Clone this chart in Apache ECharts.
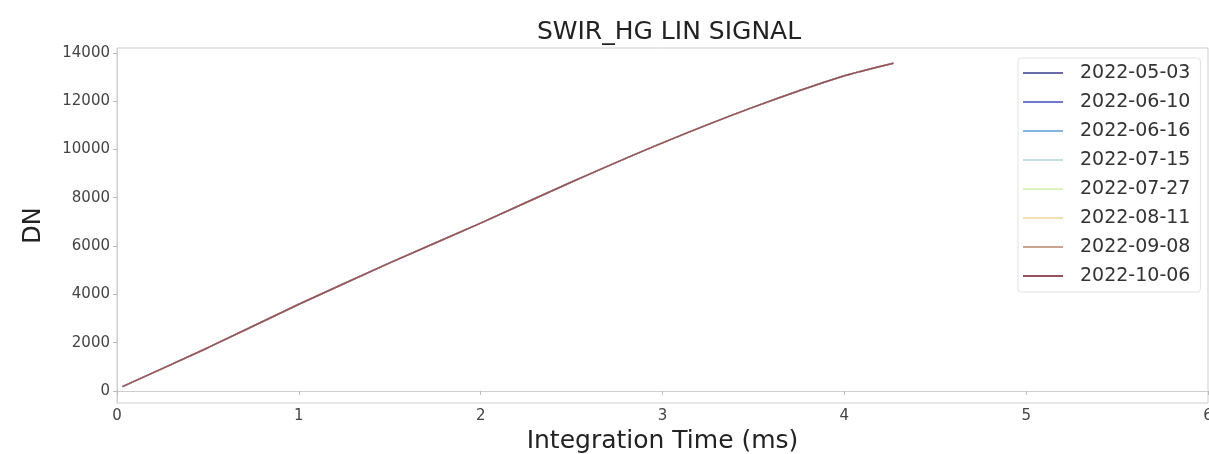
<!DOCTYPE html>
<html>
<head>
<meta charset="utf-8">
<script src="https://cdn.jsdelivr.net/npm/echarts@6/dist/echarts.min.js"></script>
<style>
  html, body { margin: 0; padding: 0; background: #fff; }
  #chart { width: 1209px; height: 454px; }
</style>
</head>
<body>
<div id="chart"></div>
<script>
// Acquisition dates, one curve per date
const dates = ['2022-05-03', '2022-06-10', '2022-06-16', '2022-07-15',
               '2022-07-27', '2022-08-11', '2022-09-08', '2022-10-06'];
// Integration time (ms)
const intTime = [0.03, 0.5, 1.0, 1.5, 2.0, 2.5, 3.0, 3.5, 4.0, 4.27];
// Linearity signal (DN) per date; the curves coincide at this scale
const sig0503 = [180, 1790, 3590, 5300, 6950, 8650, 10270, 11750, 13050, 13570];
const sig0610 = [180, 1790, 3590, 5300, 6950, 8650, 10270, 11750, 13050, 13570];
const sig0616 = [180, 1790, 3590, 5300, 6950, 8650, 10270, 11750, 13050, 13570];
const sig0715 = [180, 1790, 3590, 5300, 6950, 8650, 10270, 11750, 13050, 13570];
const sig0727 = [180, 1790, 3590, 5300, 6950, 8650, 10270, 11750, 13050, 13570];
const sig0811 = [180, 1790, 3590, 5300, 6950, 8650, 10270, 11750, 13050, 13570];
const sig0908 = [180, 1790, 3590, 5300, 6950, 8650, 10270, 11750, 13050, 13570];
const sig1006 = [180, 1790, 3590, 5300, 6950, 8650, 10270, 11750, 13050, 13570];
const signals = [sig0503, sig0610, sig0616, sig0715, sig0727, sig0811, sig0908, sig1006];
// Tick labels
const yTicks = [0, 2000, 4000, 6000, 8000, 10000, 12000, 14000];

const colors = ['#6b6bab', '#6f78cc', '#82b4e2', '#bfe4e4',
                '#daf2bc', '#f2dfb4', '#c9a392', '#94525f'];

const font = 'DejaVu Sans';
const chart = echarts.init(document.getElementById('chart'));

const series = dates.map((d, i) => ({
  name: d,
  type: 'line',
  symbol: 'none',
  smooth: 0.2,
  data: intTime.map((t, k) => [t, signals[i][k]]),
  lineStyle: { width: 1.5, color: colors[i] },
  itemStyle: { color: colors[i] },
  emphasis: { disabled: true }
}));

chart.setOption({
  animation: false,
  backgroundColor: '#fff',
  color: colors,
  title: {
    text: 'SWIR_HG LIN SIGNAL',
    left: 664, top: 15, textAlign: 'center',
    textStyle: { fontFamily: font, fontSize: 25, fontWeight: 'normal', color: '#222' }
  },
  grid: {
    left: 117, right: 1, top: 48, bottom: 51,
    containLabel: false, outerBoundsMode: 'none',
    show: true, borderColor: '#cfcfcf', borderWidth: 1, backgroundColor: 'transparent'
  },
  legend: {
    orient: 'vertical',
    left: 1018, top: 58,
    padding: [5, 10, 6, 5],
    icon: 'rect',
    itemWidth: 40, itemHeight: 2, itemGap: 9,
    borderColor: '#e2e2e2', borderWidth: 1, borderRadius: 3,
    backgroundColor: '#fff',
    textStyle: { fontFamily: font, fontSize: 19, lineHeight: 20, color: '#333', padding: [0, 0, 0, 12] },
    data: dates
  },
  xAxis: {
    type: 'value', min: 0, max: 6, interval: 1,
    name: 'Integration Time (ms)', nameLocation: 'middle', nameGap: 19,
    nameTextStyle: { fontFamily: font, fontSize: 25, color: '#222' },
    axisLine: { lineStyle: { color: '#cfcfcf' } },
    axisTick: { show: true, length: 4, lineStyle: { color: '#bbb' } },
    axisLabel: { fontFamily: font, fontSize: 15, color: '#444', margin: 6 },
    splitLine: { show: false }
  },
  yAxis: {
    type: 'value', min: -500, max: 14200,
    name: 'DN', nameLocation: 'middle', nameGap: 71, nameRotate: 90,
    nameTextStyle: { fontFamily: font, fontSize: 24, color: '#222' },
    axisLine: { show: true, lineStyle: { color: '#cfcfcf' } },
    axisTick: { show: true, length: 4, lineStyle: { color: '#bbb' }, customValues: yTicks },
    axisLabel: {
      fontFamily: font, fontSize: 15, color: '#444', margin: 7,
      customValues: yTicks, formatter: v => String(v)
    },
    splitLine: { show: false }
  },
  series: series
});
</script>
</body>
</html>
